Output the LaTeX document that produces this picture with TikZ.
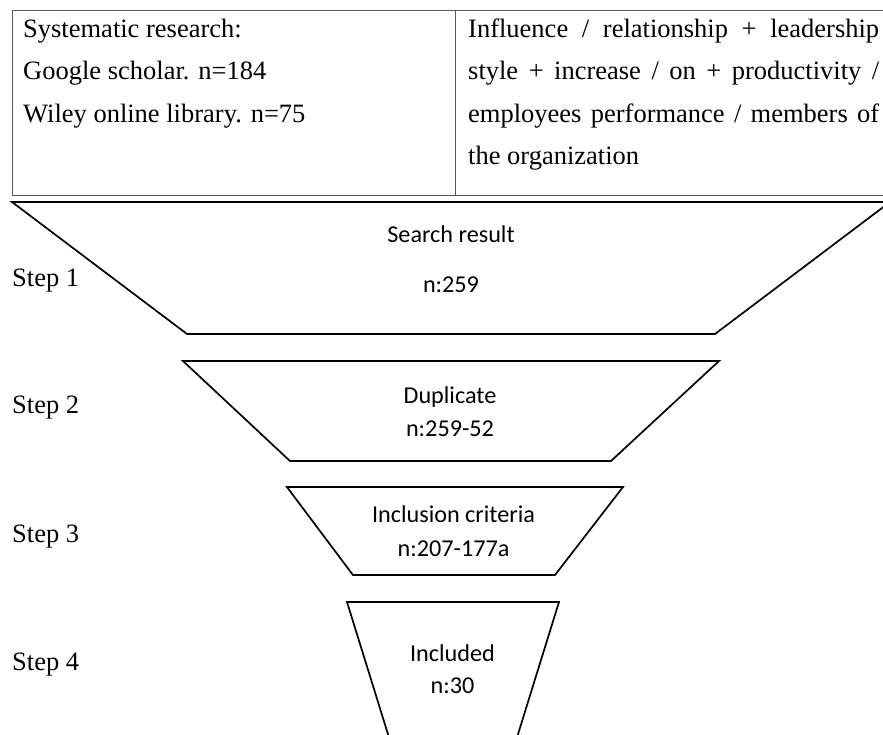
\documentclass[tikz,border=0pt]{standalone}
\usepackage{fontspec}
\setmainfont{Liberation Serif}
\newfontfamily\calfont{Carlito}
\tikzset{
  tabline/.style={draw=black!65, line width=1pt},
  funnel/.style={draw=black, line width=1.7pt, line join=miter},
  serif/.style={font=\fontsize{26.5}{31}\selectfont, inner sep=0pt, anchor=base west},
  flabel/.style={font=\calfont\fontsize{24.2}{29}\selectfont, inner sep=0pt, anchor=base},
}
\begin{document}
\begin{tikzpicture}[x=1pt,y=-1pt]
\useasboundingbox (0,0) rectangle (883,734);
\clip (0,0) rectangle (883,734);
% table
\draw[tabline] (12,10) rectangle (905,195);
\draw[tabline] (455,10) -- (455,195);
\node[serif] (l1) at (23,37) {Systematic research:};
\node[serif] (l2) at (23,79.5) {Google scholar. n=184};
\node[serif] (l3) at (23,122) {Wiley online library. n=75};
\node[serif] (r1) at (468,37) {\makebox[411pt][s]{Influence / relationship + leadership}};
\node[serif] (r2) at (468,79.5) {\makebox[411pt][s]{style + increase / on + productivity /}};
\node[serif] (r3) at (468,122) {\makebox[411pt][s]{employees performance / members of}};
\node[serif] (r4) at (468,164.5) {the organization};
% funnel
\draw[funnel] (12,202) -- (890,202) -- (715,334) -- (187,334) -- cycle;
\draw[funnel] (183,361) -- (719,361) -- (611,461) -- (290,461) -- cycle;
\draw[funnel] (287,487) -- (623,487) -- (555,575) -- (353,575) -- cycle;
\draw[funnel] (347,602) -- (559,602) -- (510,760) -- (396,760) -- cycle;
% funnel texts
\node[flabel] (s1a) at (451,242) {Search result};
\node[flabel] (s1b) at (451,292) {n:259};
\node[flabel] (s2a) at (450,403) {Duplicate};
\node[flabel] (s2b) at (450,436) {n:259-52};
\node[flabel] (s3a) at (453.5,522) {Inclusion criteria};
\node[flabel] (s3b) at (453.5,556) {n:207-177a};
\node[flabel] (s4a) at (452.5,661) {Included};
\node[flabel] (s4b) at (452.5,693) {n:30};
% step labels
\node[serif] (st1) at (12,286) {Step 1};
\node[serif] (st2) at (12,413) {Step 2};
\node[serif] (st3) at (12,542) {Step 3};
\node[serif] (st4) at (12,670) {Step 4};
\end{tikzpicture}
\end{document}
